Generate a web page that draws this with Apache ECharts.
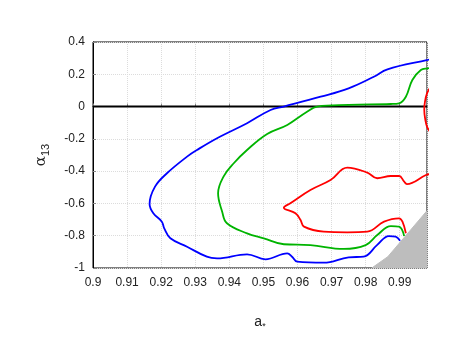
<!DOCTYPE html>
<html>
<head>
<meta charset="utf-8">
<script src="https://cdn.jsdelivr.net/npm/echarts@6/dist/echarts.min.js"></script>
<style>
  html, body { margin: 0; padding: 0; background: #fff; }
  #chart { width: 463px; height: 358px; }
</style>
</head>
<body>
<div id="chart"></div>
<script>
// axis ranges / ticks
var xMin = 0.9, xMax = 0.998, xStep = 0.01;
var yMin = -1, yMax = 0.4, yStep = 0.2;

// contour curves [a*, alpha13]
var blueLine = [
  [0.9990, 0.292], [0.9982, 0.289], [0.9864, 0.231], [0.9824, 0.185], [0.9750, 0.113],
  [0.9668, 0.061], [0.9560, 0.000], [0.9521, -0.021], [0.9452, -0.103], [0.9364, -0.196],
  [0.9305, -0.269], [0.9276, -0.310], [0.9217, -0.413], [0.9182, -0.496], [0.9166, -0.603],
  [0.9177, -0.661], [0.9202, -0.713], [0.9209, -0.754], [0.9227, -0.816], [0.9276, -0.868],
  [0.9334, -0.930], [0.9364, -0.940], [0.9452, -0.915], [0.9506, -0.946], [0.9570, -0.909],
  [0.9584, -0.930], [0.9599, -0.961], [0.9677, -0.967], [0.9750, -0.934], [0.9794, -0.930],
  [0.9834, -0.857], [0.9868, -0.802], [0.9888, -0.806], [0.9901, -0.831]
];
var greenLine = [
  [0.9990, 0.240], [0.9982, 0.237], [0.9962, 0.227], [0.9937, 0.165], [0.9918, 0.061],
  [0.9898, 0.020], [0.9874, 0.016], [0.9750, 0.010], [0.9658, 0.000], [0.9628, -0.032],
  [0.9570, -0.114], [0.9511, -0.170], [0.9452, -0.269], [0.9413, -0.351], [0.9383, -0.434],
  [0.9367, -0.537], [0.9379, -0.651], [0.9393, -0.723], [0.9452, -0.785], [0.9501, -0.816],
  [0.9560, -0.853], [0.9638, -0.858], [0.9736, -0.882], [0.9800, -0.858], [0.9834, -0.796],
  [0.9874, -0.740], [0.9898, -0.744], [0.9913, -0.802]
];
var redLine = [
  [0.9990, -0.418], [0.9977, -0.424], [0.9921, -0.480], [0.9913, -0.465], [0.9898, -0.430],
  [0.9874, -0.430], [0.9834, -0.444], [0.9805, -0.409], [0.9746, -0.378], [0.9697, -0.455],
  [0.9638, -0.517], [0.9579, -0.599], [0.9560, -0.626], [0.9594, -0.661], [0.9609, -0.703],
  [0.9619, -0.744], [0.9677, -0.775], [0.9746, -0.779], [0.9805, -0.775], [0.9854, -0.713],
  [0.9898, -0.692], [0.9908, -0.713], [0.9918, -0.785]
];
var redArc = [
  [0.9990, 0.120], [0.9980, 0.082], [0.9974, 0.030], [0.9972, -0.021], [0.9975, -0.080],
  [0.9980, -0.124], [0.9990, -0.160]
];
var zeroLine = [[0.9, 0], [0.998, 0]];
var greyEdge = [[0.9818, -1], [0.9865, -0.93], [0.998, -0.645]];

var myChart = echarts.init(document.getElementById('chart'));

function curve(data, color) {
  return {
    type: 'line',
    data: data,
    smooth: 0.4,
    showSymbol: false,
    symbol: 'none',
    lineStyle: { color: color, width: 1.8 },
    silent: true
  };
}

var option = {
  animation: false,
  backgroundColor: '#fff',
  grid: {
    left: 93, right: 36, top: 42, bottom: 90,
    show: true, borderColor: '#000', borderWidth: 1, backgroundColor: 'transparent'
  },
  xAxis: {
    type: 'value',
    min: xMin, max: xMax, interval: xStep,
    name: 'a{s|*}',
    nameLocation: 'middle',
    nameGap: 46,
    nameTextStyle: {
      fontFamily: 'Liberation Sans', fontSize: 14, color: '#222',
      rich: { s: { fontSize: 9, padding: [8, 0, 0, 0], color: '#222' } }
    },
    axisLine: { show: true, lineStyle: { color: '#000', width: 1 } },
    axisTick: { show: true, inside: true, length: 3, lineStyle: { color: '#888' } },
    axisLabel: {
      margin: 9, fontFamily: 'Liberation Sans', fontSize: 12, color: '#222',
      showMaxLabel: false,
      formatter: function (v) {
        var k = Math.round(v * 100);
        if (Math.abs(v * 100 - k) > 1e-6) return '';
        return String(k / 100);
      }
    },
    splitLine: { show: true, lineStyle: { color: '#dcdcdc', type: 'dotted', width: 1 } }
  },
  yAxis: {
    type: 'value',
    min: yMin, max: yMax, interval: yStep,
    name: 'α{s|13}',
    nameLocation: 'middle',
    nameGap: 42,
    nameTextStyle: {
      fontFamily: 'DejaVu Serif', fontSize: 15, color: '#222',
      rich: { s: { fontFamily: 'Liberation Sans', fontSize: 11, padding: [8, 0, 0, 0], color: '#222' } }
    },
    axisLine: { show: true, lineStyle: { color: '#000', width: 1 } },
    axisTick: { show: true, inside: true, length: 3, lineStyle: { color: '#888' } },
    axisLabel: {
      margin: 8, fontFamily: 'Liberation Sans', fontSize: 12, color: '#222',
      formatter: function (v) { return String(Math.round(v * 10) / 10); }
    },
    splitLine: { show: true, lineStyle: { color: '#dcdcdc', type: 'dotted', width: 1 } }
  },
  series: [
    {
      type: 'line',
      data: greyEdge,
      showSymbol: false,
      symbol: 'none',
      lineStyle: { color: '#bdbdbd', width: 1 },
      areaStyle: { color: '#bdbdbd', opacity: 1, origin: 'start' },
      silent: true
    },
    {
      type: 'line',
      data: zeroLine,
      showSymbol: false,
      symbol: 'none',
      lineStyle: { color: '#000', width: 2 },
      silent: true
    },
    curve(blueLine, '#0000ff'),
    curve(greenLine, '#00b400'),
    curve(redLine, '#ff0000'),
    curve(redArc, '#ff0000')
  ]
};

myChart.setOption(option);
</script>
</body>
</html>
